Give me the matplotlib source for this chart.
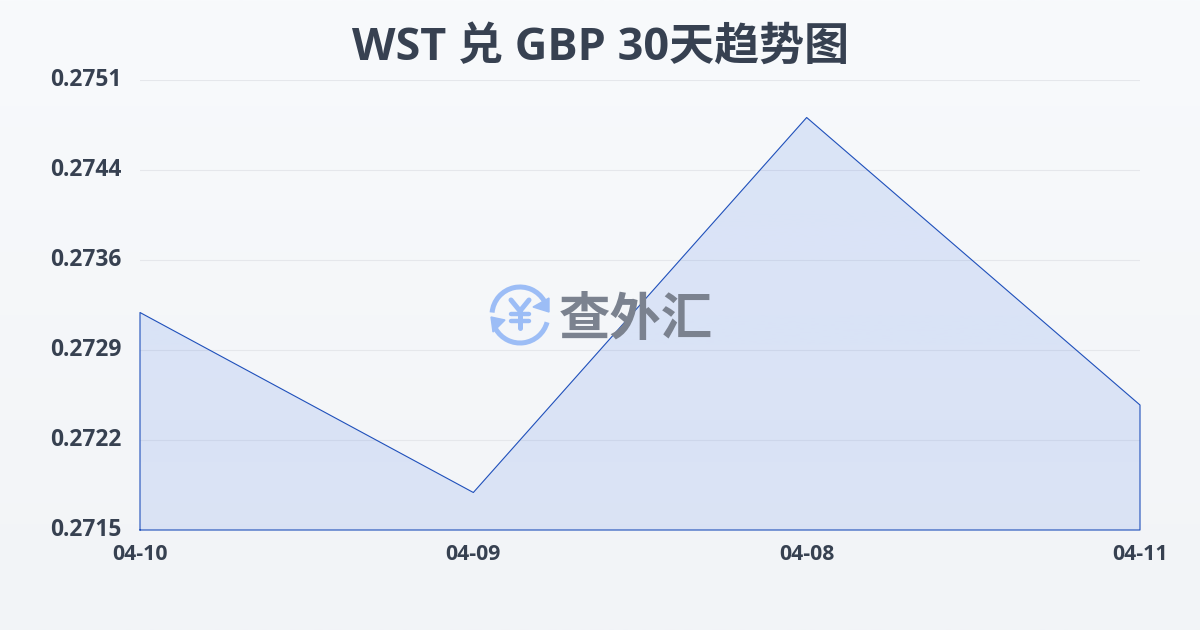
import numpy as np
import matplotlib
matplotlib.use('Agg')
import matplotlib.pyplot as plt
from matplotlib.patches import Arc, Polygon

plt.rcParams['font.family'] = ['Open Sans', 'Noto Sans CJK SC', 'DejaVu Sans']

# data
dates = ['04-10', '04-09', '04-08', '04-11']
rates = [0.27324, 0.27180, 0.27480, 0.27250]
y_ticks = [0.2715, 0.2722, 0.2729, 0.2736, 0.2744, 0.2751]
y_min = 0.2715
y_max = 0.2751
title = 'WST 兑 GBP 30天趋势图'
watermark = '查外汇'

W, H = 1200, 630
TEXT = '#374151'

fig = plt.figure(figsize=(W / 100, H / 100), dpi=100)

# page background, light vertical gradient
bg = fig.add_axes([0, 0, 1, 1], zorder=0)
bg.axis('off')
top_c = np.array(matplotlib.colors.to_rgb('#f8fafc'))
bot_c = np.array(matplotlib.colors.to_rgb('#f2f4f7'))
t = np.linspace(0, 1, 256)[:, None, None]
bg.imshow(top_c * (1 - t) + bot_c * t, aspect='auto', extent=[0, 1, 0, 1])

ax = fig.add_axes([140 / W, 1 - 530 / H, 1000 / W, 450 / H], zorder=1)
ax.patch.set_alpha(0)
x = np.arange(len(dates))

ax.set_xlim(0, len(dates) - 1)
ax.set_ylim(y_min, y_max)
ax.grid(axis='y', color='#e5e7eb', linewidth=0.8)
ax.set_axisbelow(True)

# area with a soft vertical fade
area = ax.fill_between(x, rates, y_min, color='none', zorder=2)
fade = np.zeros((256, 1, 4))
fade[..., :3] = matplotlib.colors.to_rgb('#3b70e5')
fade[..., 3] = np.linspace(0.15, 0.135, 256)[:, None]
img = ax.imshow(fade, aspect='auto', extent=[0, len(dates) - 1, y_min, y_max], zorder=2)
img.set_clip_path(area.get_paths()[0], ax.transData)
ax.set_xlim(0, len(dates) - 1)
ax.set_ylim(y_min, y_max)

# outline goes round the whole area, as in the original
ax.plot(np.r_[x[0], x, x[-1], x[0]], np.r_[y_min, rates, y_min, y_min],
        color='#1f50bb', linewidth=0.8, clip_on=False, zorder=3)

for s in ax.spines.values():
    s.set_visible(False)

ax.set_xticks(x)
ax.set_xticklabels(dates, fontsize=15.3, fontweight='bold', color=TEXT)
ax.set_yticks(np.linspace(y_min, y_max, len(y_ticks)))
ax.set_yticklabels(['%.4f' % v for v in y_ticks], fontsize=16.4, fontweight='bold', color=TEXT)
ax.tick_params(axis='x', length=0, pad=10)
ax.tick_params(axis='y', length=0, pad=13)
for lab in ax.get_yticklabels():
    lab.set_verticalalignment('center')

fig.text(600.5 / W, 1 - 48 / H, title, ha='center', va='center', fontsize=32.4,
         fontweight='bold', color=TEXT)

# watermark logo on top, drawn in pixel coordinates
wm = fig.add_axes([0, 0, 1, 1], zorder=3)
wm.axis('off')
wm.patch.set_alpha(0)
wm.set_xlim(0, W)
wm.set_ylim(H, 0)
BLUE = '#9cbdf6'
cx, cy = 520, 315
wm.add_patch(Arc((cx, cy), 56, 56, theta1=185, theta2=330, color=BLUE, lw=3.6))
wm.add_patch(Arc((cx, cy), 56, 56, theta1=15, theta2=150, color=BLUE, lw=3.6))
wm.add_patch(Polygon([(549, 298), (549, 312), (533, 307)], color=BLUE))
wm.add_patch(Polygon([(491, 317), (505, 320), (493, 332)], color=BLUE))
# yen sign of the logo
wm.plot([511, 520, 529], [300, 311, 300], color=BLUE, lw=3.6, solid_capstyle='round', solid_joinstyle='round')
wm.plot([520, 520], [311, 328], color=BLUE, lw=3.6, solid_capstyle='round')
wm.plot([511, 529], [314, 314], color=BLUE, lw=3.2, solid_capstyle='round')
wm.plot([511, 529], [321, 321], color=BLUE, lw=3.2, solid_capstyle='round')
wm.text(635.5, 322, watermark, fontsize=37, fontweight='bold', color='#7b828f', ha='center', va='center')

fig.savefig('out.png', dpi=100)
